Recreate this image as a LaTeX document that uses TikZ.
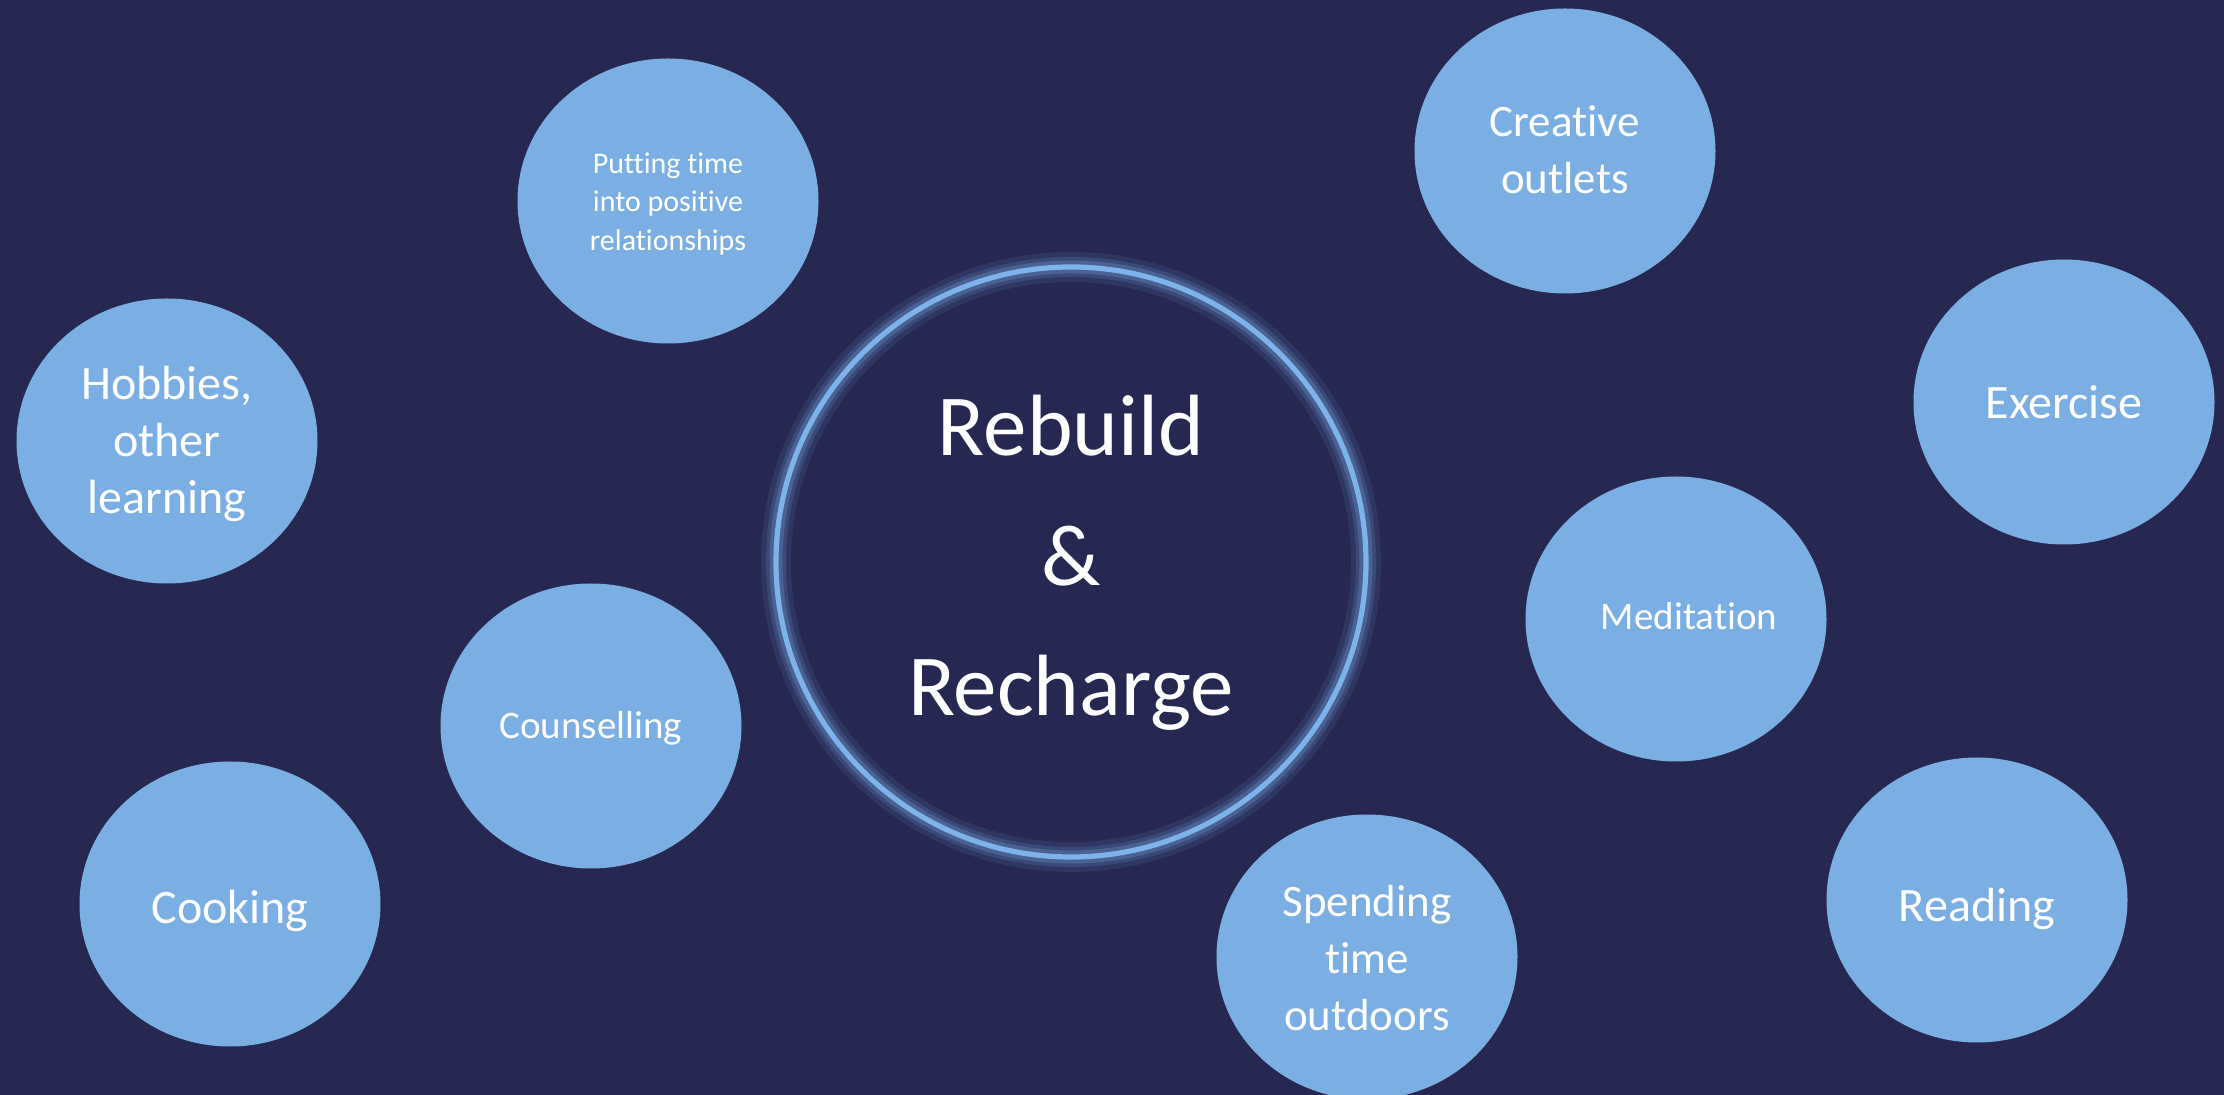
\documentclass[tikz,border=0pt]{standalone}
\usepackage{fontspec}
\setmainfont{Carlito}[Ligatures=NoCommon]
\usetikzlibrary{shapes.geometric}
\definecolor{navy}{RGB}{38,40,82}
\definecolor{bubblefill}{RGB}{123,175,227}
\definecolor{ringblue}{RGB}{125,178,235}
\begin{document}
\begin{tikzpicture}[x=0.5pt,y=-0.5pt,
  bubble/.style={ellipse,fill=bubblefill,draw=none,minimum width=150.5pt,minimum height=142.5pt,inner sep=0pt},
  lbl/.style={text=white,align=center,inner sep=0pt},
  bigtext/.style={lbl,font=\fontsize{24}{28.5}\selectfont},
  bigtextb/.style={lbl,font=\fontsize{22.5}{28.5}\selectfont},
  midtext/.style={lbl,font=\fontsize{19.5}{23}\selectfont},
  smalltext/.style={lbl,font=\fontsize{15}{19.2}\selectfont},
  hubtext/.style={lbl,font=\fontsize{43.5}{65}\selectfont},
]
\useasboundingbox (0,0) rectangle (2224,1095);
\clip (0,0) rectangle (2224,1095);
\fill[navy] (0,0) rectangle (2224,1095);

% central glowing ring
\node[circle,minimum size=295pt,inner sep=0pt] (hub) at (1071,562) {};
\draw[ringblue,opacity=0.10,line width=15pt] (hub.center) circle[radius=147.5pt];
\draw[ringblue,opacity=0.16,line width=10pt] (hub.center) circle[radius=147.5pt];
\draw[ringblue,opacity=0.24,line width=6.5pt] (hub.center) circle[radius=147.5pt];
\draw[ringblue,line width=2.6pt] (hub.center) circle[radius=147.5pt];
\node[hubtext] (hubtxt) at (1071,563) {Rebuild\\\&\\Recharge};

% surrounding bubbles
\node[bubble] (rel) at (668,201) {};
\node[smalltext] (reltxt) at (668,204) {Putting time\\into positive\\relationships};

\node[bubble] (creative) at (1565,151) {};
\node[bigtextb] (creativetxt) at (1565,150) {Creative\\outlets};

\node[bubble] (hobbies) at (167,441) {};
\node[bigtext] (hobbiestxt) at (167,444) {Hobbies,\\other\\learning};

\node[bubble] (counsel) at (591,726) {};
\node[midtext,anchor=base] (counseltxt) at (591,739) {Counselling};

\node[bubble] (cooking) at (230,904) {};
\node[bigtext,anchor=base] (cookingtxt) at (230,924) {Cooking};

\node[bubble] (outdoors) at (1367,957) {};
\node[bigtextb] (outdoorstxt) at (1367,958) {Spending\\time\\outdoors};

\node[bubble] (meditation) at (1676,619) {};
\node[midtext,anchor=base] (meditationtxt) at (1689,630) {Meditation};

\node[bubble] (exercise) at (2064,402) {};
\node[bigtext,anchor=base] (exercisetxt) at (2064,419) {Exercise};

\node[bubble] (reading) at (1977,900) {};
\node[bigtext,anchor=base] (readingtxt) at (1977,922) {Reading};
\end{tikzpicture}
\end{document}
